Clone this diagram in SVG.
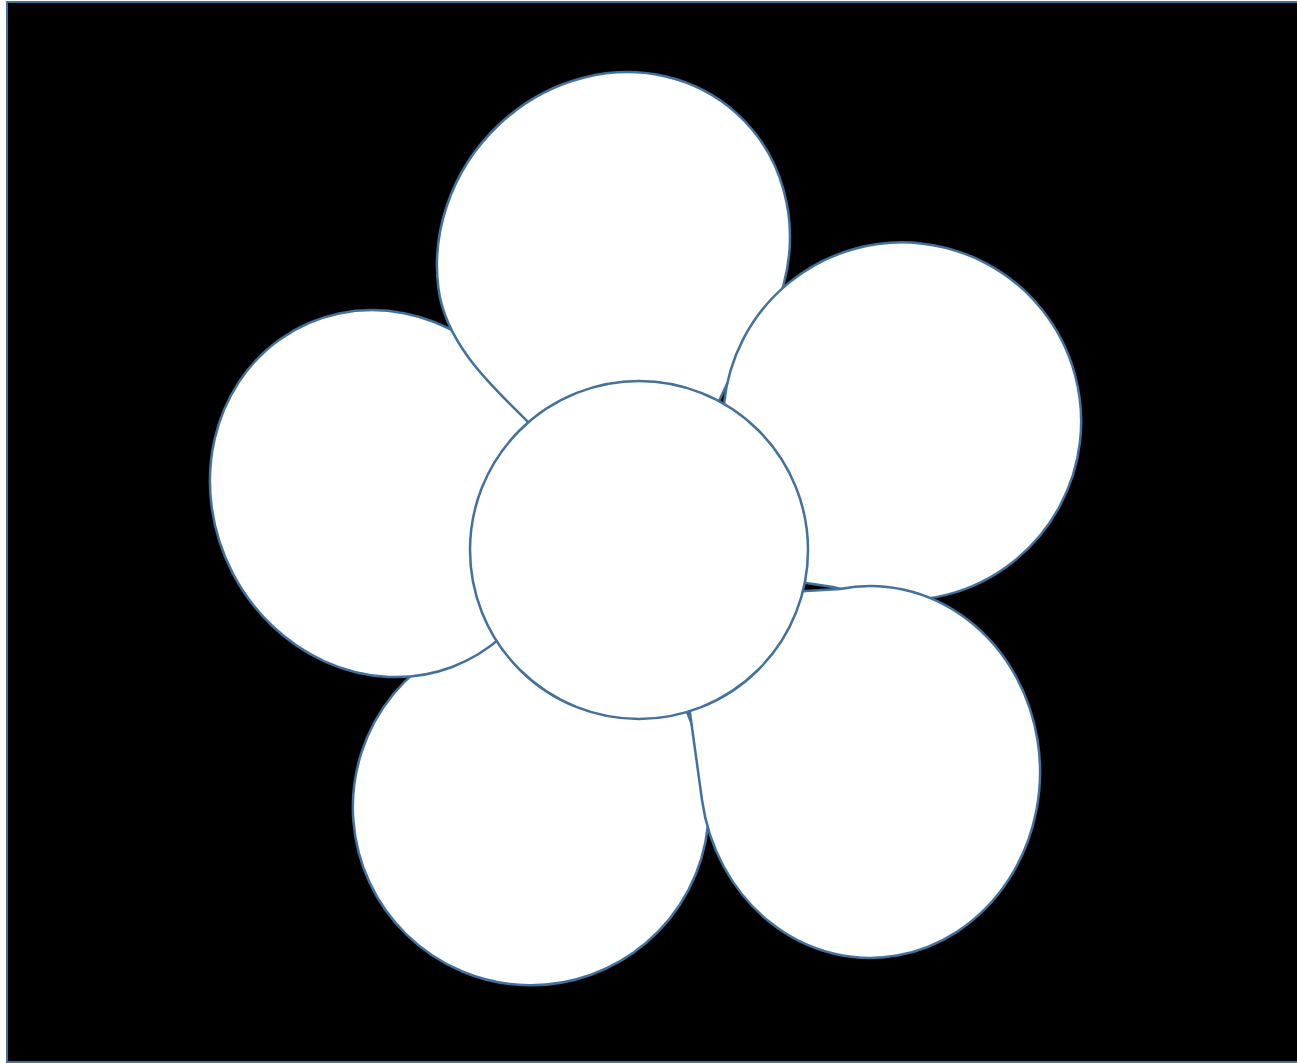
<svg xmlns="http://www.w3.org/2000/svg" width="1297" height="1063" viewBox="0 0 1297 1063">
  <style>
    .bg { fill: #000000; stroke: #41719C; stroke-width: 2; }
    .shape { fill: #FFFFFF; stroke: #41719C; stroke-width: 2.5; stroke-linejoin: round; }
  </style>
  <rect class="bg" x="7" y="2" width="1300" height="1060"/>
  <g id="petal-bottom-left">
    <path class="shape" d="M 650,600 L 687,712 L 693,727 L 703,762 A 178 178 0 1 1 442,653 Z"/>
  </g>
  <g id="petal-left">
    <path class="shape" d="M 560,540 L 503,635.7 A 186.4 170.9 63.9 1 1 462.1,335.7 L 540,420 Z"/>
  </g>
  <g id="petal-top">
    <path class="shape" d="M 656,535 L 528,422 C 500.2,393.3 446.5,348.5 438.5,289 A 184.8 170.4 -50 1 1 744,360.6 C 737,370 730,378 727,384 L 719,401 Z"/>
  </g>
  <g id="petal-right">
    <path class="shape" d="M 710,568 L 724,404 A 179 179 0 1 1 880,599 L 833,587 L 806,583 Z"/>
  </g>
  <g id="petal-bottom-right">
    <path class="shape" d="M 673,605 L 806,591 L 840,588.9 A 170 186 0 1 1 702,800 L 690,713 Z"/>
  </g>
  <g id="center">
    <circle class="shape" cx="639" cy="550" r="169"/>
  </g>
  <g id="connectors"></g>
</svg>
